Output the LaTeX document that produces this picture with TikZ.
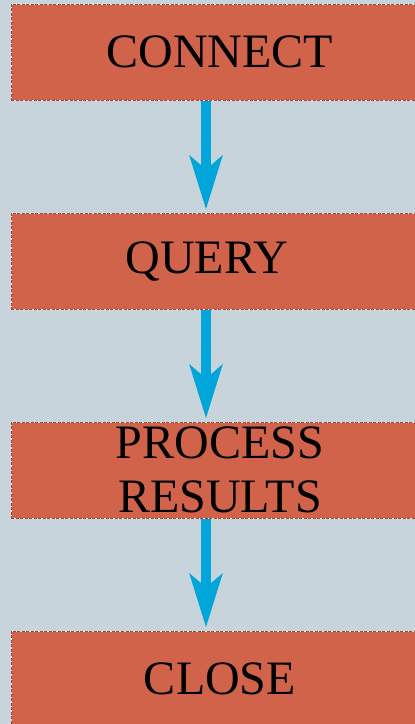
\documentclass[tikz,border=0pt]{standalone}
\usepackage{fontspec}
\setmainfont{Liberation Serif}
\usepackage{tikz}
\usetikzlibrary{positioning}
\usetikzlibrary{arrows.meta}
\definecolor{bgblue}{HTML}{C8D4DB}
\definecolor{stepfill}{HTML}{D0634A}
\definecolor{stepline}{HTML}{A0473A}
\definecolor{flowblue}{HTML}{00A6DA}
\tikzset{stage/.style={rectangle, fill=stepfill, draw=white!75!bgblue, line width=1pt,
  postaction={draw=stepline, line width=1pt, dash pattern=on 3pt off 1.5pt},
  minimum width=418pt, minimum height=96pt,
  inner sep=0pt, align=center, font=\fontsize{48}{54}\selectfont}}
\tikzset{flow/.style={draw=flowblue, line width=10pt,
  -{Stealth[length=53pt, width=32pt, inset=13pt, fill=flowblue]}, shorten >=3pt}}

\begin{document}
\begin{tikzpicture}[node distance=112pt]
    \fill[bgblue] (0,0) rectangle (415pt,-724pt);
    \useasboundingbox (0,0) rectangle (415pt,-724pt);
    \node[stage] (connect) at (220pt,-52pt) {\raisebox{-3pt}{CONNECT}};
    \node[stage, below=of connect] (query) {\raisebox{-4pt}{QUERY}\hspace*{26pt}};
    \node[stage, below=of query] (process) {PROCESS\\RESULTS};
    \node[stage, below=of process] (close) {CLOSE};
    % arrows sit a bit left of the box centres
    \draw[flow] ([xshift=-14pt]connect.south) -- ([xshift=-14pt]query.north);
    \draw[flow] ([xshift=-14pt]query.south) -- ([xshift=-14pt]process.north);
    \draw[flow] ([xshift=-14pt]process.south) -- ([xshift=-14pt]close.north);
  \end{tikzpicture}
\end{document}
